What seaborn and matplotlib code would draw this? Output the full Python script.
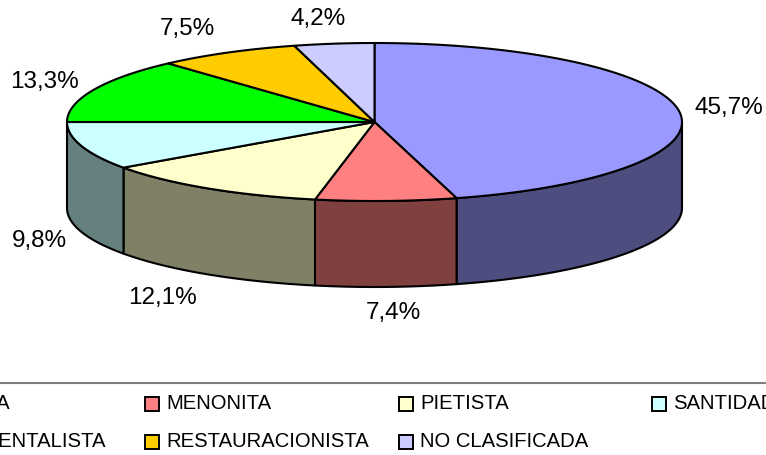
import numpy as np
import matplotlib
matplotlib.use('Agg')
import matplotlib.pyplot as plt
from matplotlib.patches import Rectangle
import seaborn as sns

categories = ['BAUTISTA', 'MENONITA', 'PIETISTA', 'SANTIDAD', 'FUNDAMENTALISTA', 'RESTAURACIONISTA', 'NO CLASIFICADA']
shares = [45.7, 7.4, 12.1, 9.8, 13.3, 7.5, 4.2]
colors = ['#9999FF', '#FF8080', '#FFFFCC', '#CCFFFF', '#00FF00', '#FFCC00', '#CCCCFF']

sns.set_theme(style='white')
plt.rcParams['font.family'] = ['Liberation Sans', 'DejaVu Sans']

# layout in pixels of the picture
cx, cy, rx, ry, depth = 374.5, 122, 307.5, 79, 86
label_xy = [(728.5, 108), (393, 313), (162, 298), (39, 241), (45, 82), (187, 29), (318, 19)]
legend_cols = [-109, 145, 399, 652]
legend_rows = [403.5, 441.5]

fig = plt.figure(figsize=(7.66, 4.55), dpi=100)
ax = fig.add_axes([0, 0, 1, 1])
ax.set_xlim(0, 766)
ax.set_ylim(455, 0)
ax.axis('off')

palette = sns.color_palette(colors)
total = sum(shares)
edges = 90 - np.cumsum([0] + shares) * 360 / total


def ell(t, dy=0):
    t = np.radians(t)
    return cx + rx * np.cos(t), cy + ry * np.sin(-t) + dy


# side wall, only the front half shows
for i, col in enumerate(palette):
    a, b = edges[i], edges[i + 1]
    hi, lo = min(a, 0), max(b, -180)
    if hi <= lo:
        continue
    t = np.linspace(hi, lo, 80)
    x, y = ell(t)
    xb, yb = ell(t, depth)
    dark = tuple(c * 0.5 for c in col)
    ax.fill(np.r_[x, xb[::-1]], np.r_[y, yb[::-1]], facecolor=dark, edgecolor='black', lw=1.5, joinstyle='round')

# top
for i, col in enumerate(palette):
    t = np.linspace(edges[i], edges[i + 1], 120)
    x, y = ell(t)
    ax.fill(np.r_[cx, x], np.r_[cy, y], facecolor=col, edgecolor='black', lw=1.5, joinstyle='round')

for v, (x, y) in zip(shares, label_xy):
    ax.text(x, y, f'{v:.1f}%'.replace('.', ','), ha='center', va='center', fontsize=17.5, color='black')

# legend box top line
ax.plot([0, 766], [382.5, 382.5], color='#808080', lw=1.5, solid_capstyle='butt')

for i, (name, col) in enumerate(zip(categories, palette)):
    bx = legend_cols[i % 4]
    by = legend_rows[i // 4]
    ax.add_patch(Rectangle((bx, by - 7), 14, 14, facecolor=col, edgecolor='black', lw=1.4))
    ax.text(bx + 21.5, by, name, ha='left', va='center', fontsize=14.6, color='black')

fig.savefig('out.png', dpi=100)
